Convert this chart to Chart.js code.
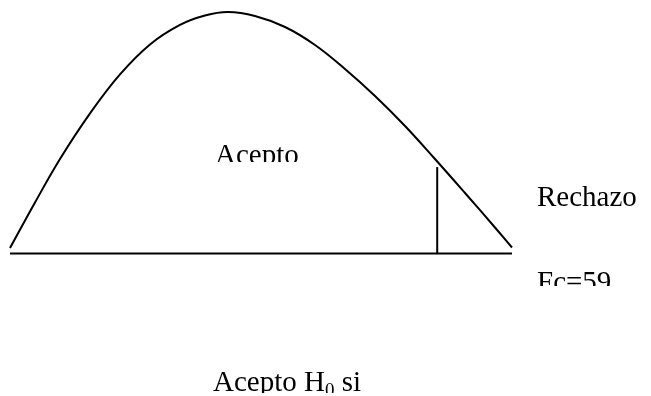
<!DOCTYPE html>
<html>
<head>
<meta charset="utf-8">
<script src="https://cdn.jsdelivr.net/npm/chart.js@4/dist/chart.umd.min.js"></script>
<style>
html,body{margin:0;padding:0;background:#fff;}
#wrap{width:651px;height:396px;position:relative;}
</style>
</head>
<body>
<div id="wrap"><canvas id="c" width="651" height="396"></canvas></div>
<script>
// Density curve (abstract units: x 0..100, y 0..100)
const curveX = [0, 4.98, 9.96, 15.94, 21.91, 27.89, 33.86, 38.84, 43.43, 48.8, 54.78, 60.76, 66.73, 72.71, 78.69, 84.66, 90.64, 96.61, 100];
const curveY = [2.28, 21.12, 39.13, 58.01, 74.16, 86.58, 94.66, 98.55, 100, 98.34, 93.79, 86.34, 76.4, 65.22, 52.8, 39.13, 25.05, 10.77, 2.48];
// Baseline (x axis) extent
const baseX = [0, 100];
const baseY = [0, 0];
// Critical value line
const critX = [85.1, 85.1];
const critY = [0, 35.8];
// Labels
const labels = {
  accept: "Acepto",
  reject: "Rechazo",
  fc: "Fc=59.",
  rule: "Acepto H",
  ruleSub: "0",
  ruleEnd: " si"
};

const toPts = (xs, ys) => xs.map((x, i) => ({x: x, y: ys[i]}));

const textPlugin = {
  id: 'texts',
  afterDraw(chart) {
    const ctx = chart.ctx;
    const font = '29px "Liberation Serif", "Times New Roman", serif';
    function clipText(txt, x, y, clipBottom) {
      ctx.save();
      ctx.beginPath();
      ctx.rect(0, 0, chart.width, clipBottom);
      ctx.clip();
      ctx.fillStyle = '#000';
      ctx.font = font;
      ctx.textBaseline = 'alphabetic';
      ctx.textAlign = 'left';
      ctx.fillText(txt, x, y);
      ctx.restore();
    }
    clipText(labels.accept, 215, 164, 162);
    clipText(labels.reject, 537, 206, 396);
    clipText(labels.fc, 537, 291, 286);
    // Rule with subscript
    ctx.save();
    ctx.beginPath();
    ctx.rect(0, 0, chart.width, 393);
    ctx.clip();
    ctx.fillStyle = '#000';
    ctx.font = font;
    ctx.textBaseline = 'alphabetic';
    let x = 213;
    ctx.fillText(labels.rule, x, 391);
    x += ctx.measureText(labels.rule).width;
    ctx.font = '19px "Liberation Serif", "Times New Roman", serif';
    ctx.fillText(labels.ruleSub, x, 396);
    x += ctx.measureText(labels.ruleSub).width;
    ctx.font = font;
    ctx.fillText(labels.ruleEnd, x, 391);
    ctx.restore();
  }
};

new Chart(document.getElementById('c'), {
  type: 'scatter',
  data: {
    datasets: [
      {
        data: toPts(curveX, curveY),
        showLine: true,
        borderColor: '#000',
        borderWidth: 2,
        pointRadius: 0,
        tension: 0.4,
        clip: false
      },
      {
        data: toPts(baseX, baseY),
        showLine: true,
        borderColor: '#000',
        borderWidth: 2,
        pointRadius: 0,
        clip: false
      },
      {
        data: toPts(critX, critY),
        showLine: true,
        borderColor: '#000',
        borderWidth: 2,
        pointRadius: 0,
        clip: false
      }
    ]
  },
  options: {
    responsive: false,
    animation: false,
    events: [],
    elements: { line: { capBezierPoints: false } },
    layout: { padding: { left: 10, right: 139, top: 12, bottom: 142.5 } },
    scales: {
      x: { type: 'linear', min: 0, max: 100, display: false },
      y: { type: 'linear', min: 0, max: 100, display: false }
    },
    plugins: { legend: { display: false }, tooltip: { enabled: false } }
  },
  plugins: [textPlugin]
});
</script>
</body>
</html>
